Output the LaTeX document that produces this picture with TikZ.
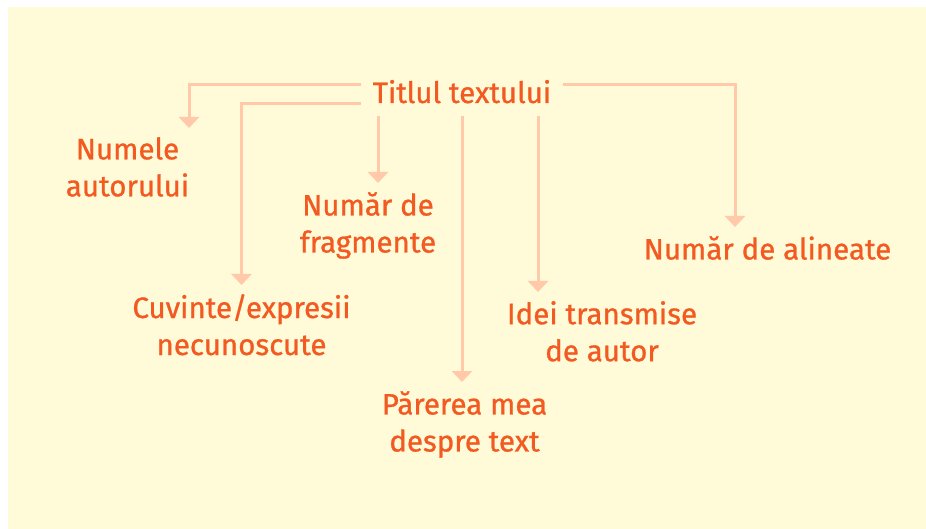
\documentclass[tikz,border=0pt]{standalone}
\usepackage{fontspec}
\usepackage{tikz}
\usetikzlibrary{arrows.meta}
\newfontfamily\lblfont{Fira Sans}[FakeBold=0.9]
\definecolor{paleyellow}{HTML}{FFFAD7}
\definecolor{darkorange}{HTML}{F25A22}
\definecolor{lightorange}{HTML}{FFC9AA}

\begin{document}
\begin{tikzpicture}[x=1pt,y=-1pt,
		lbl/.style={darkorange, font=\lblfont\fontsize{29.5}{37}\selectfont, align=center, inner xsep=0pt, inner ysep=9pt, anchor=north},
		link/.style={lightorange, line width=3pt, -{Triangle[width=20pt,length=11pt]}}]
		\useasboundingbox (0,0) rectangle (926,529);
		\fill[paleyellow] (8,7) rectangle (926,529);
		\node[lbl, anchor=base, inner xsep=12pt, inner ysep=12pt] (titlul) at (462,103) {Titlul textului};
		\node[lbl] (numele) at (127.5,128) {Numele\\autorului};
		\node[lbl] (cuvinte) at (241.5,285) {Cuvinte/expresii\\necunoscute};
		\node[lbl] (fragmente) at (368,183) {Număr de\\fragmente};
		\node[lbl] (parerea) at (464.5,382) {Părerea mea\\despre text};
		\node[lbl] (idei) at (602,292) {Idei transmise\\de autor};
		\node[lbl] (alineate) at (767.5,227) {Număr de alineate};
		\draw[link] ([yshift=7pt]titlul.west) -| ([xshift=61.5pt]numele.north);
		\draw[link] ([yshift=-12pt]titlul.west) -| (cuvinte.north);
		\draw[link] ([xshift=-84pt]titlul.south) -- ([xshift=-84pt]titlul.south |- fragmente.north);
		\draw[link] (titlul.south) -- (titlul.south |- parerea.north);
		\draw[link] ([xshift=76pt]titlul.south) -- ([xshift=76pt]titlul.south |- idei.north);
		\draw[link] ([yshift=7pt]titlul.east) -| ([xshift=-32.5pt]alineate.north);
\end{tikzpicture}
\end{document}
